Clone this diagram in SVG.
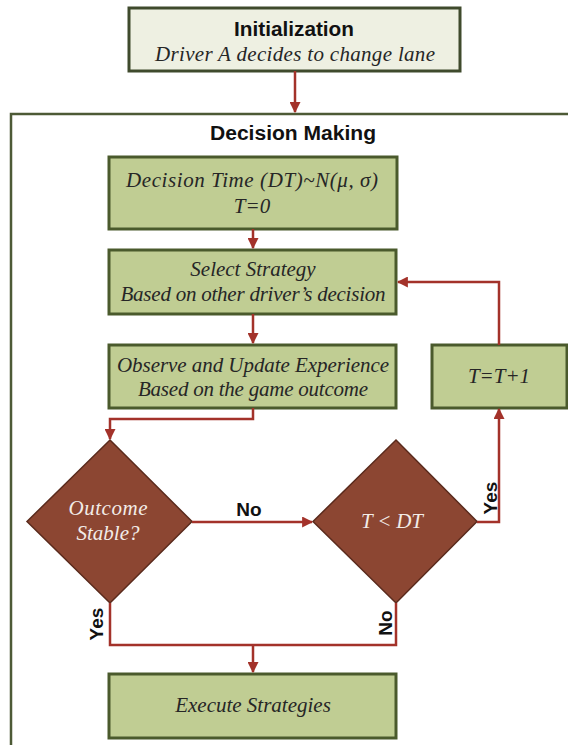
<svg xmlns="http://www.w3.org/2000/svg" width="568" height="745" viewBox="0 0 568 745">
<defs>
<marker id="ah" viewBox="0 0 10 10" refX="9" refY="5" markerWidth="11" markerHeight="11" markerUnits="userSpaceOnUse" orient="auto">
<path d="M0,0 L10,5 L0,10 z" fill="#a3322a"/>
</marker>
<style>
.box{fill:#c0cd93;stroke:#4a5a2c;stroke-width:3}
.init{fill:#eef0e2;stroke:#3f4a2c;stroke-width:3}
.dia{fill:#8c4632;stroke:#5a2a1c;stroke-width:1.5}
.it{font-family:"Liberation Serif",serif;font-style:italic;font-size:21px;fill:#262626;text-anchor:middle}
.wt{font-family:"Liberation Serif",serif;font-style:italic;font-size:21px;fill:#f2ece8;text-anchor:middle}
.hd{font-family:"Liberation Sans",Arial,sans-serif;font-weight:bold;font-size:20px;fill:#111;text-anchor:middle}
.lb{font-family:"Liberation Sans",Arial,sans-serif;font-weight:bold;font-size:19px;fill:#111;text-anchor:middle}
.ln{fill:none;stroke:#a3322a;stroke-width:2.5}
</style>
</defs>
<rect x="0" y="0" width="568" height="745" fill="#ffffff"/>
<g id="container">
<path d="M11,745 L11,114 L568,114" fill="none" stroke="#4d5a36" stroke-width="2.5"/>
<text class="hd" x="293" y="140" textLength="166" lengthAdjust="spacingAndGlyphs">Decision Making</text>
</g>
<g id="init">
<rect class="init" x="129" y="8" width="331" height="63"/>
<text class="hd" x="294" y="36" textLength="120" lengthAdjust="spacingAndGlyphs">Initialization</text>
<text class="it" x="295" y="61" textLength="280">Driver A decides to change  lane</text>
</g>
<g id="dt">
<rect class="box" x="109" y="157" width="288" height="72"/>
<text class="it" x="252" y="187" textLength="252">Decision Time (DT)~N(μ, σ)</text>
<text class="it" x="252" y="213">T=0</text>
</g>
<g id="select">
<rect class="box" x="109" y="250" width="287" height="64"/>
<text class="it" x="253" y="276">Select Strategy</text>
<text class="it" x="253" y="301" textLength="265">Based on  other driver’s decision</text>
</g>
<g id="observe">
<rect class="box" x="109" y="345" width="287" height="63"/>
<text class="it" x="253" y="372" textLength="272">Observe and Update Experience</text>
<text class="it" x="253" y="396" textLength="230">Based on  the game outcome</text>
</g>
<g id="tinc">
<rect class="box" x="432" y="345" width="135" height="63"/>
<text class="it" x="499" y="383">T=T+1</text>
</g>
<g id="stable">
<polygon class="dia" points="110,440 192,521.5 110,603 27,521.5"/>
<text class="wt" x="108" y="515" textLength="79">Outcome</text>
<text class="wt" x="108" y="540" textLength="63">Stable?</text>
</g>
<g id="tlessdt">
<polygon class="dia" points="396,440 477,521.5 396,603 313,521.5"/>
<text class="wt" x="392" y="528" textLength="62">T &lt; DT</text>
</g>
<g id="execute">
<rect class="box" x="109" y="674" width="287" height="64"/>
<text class="it" x="253" y="712">Execute Strategies</text>
</g>
<g id="connectors">
<path class="ln" d="M295,71 L295,112" marker-end="url(#ah)"/>
<path class="ln" d="M253,229 L253,248" marker-end="url(#ah)"/>
<path class="ln" d="M253,314 L253,343" marker-end="url(#ah)"/>
<path class="ln" d="M253,408 L253,419 L110,419 L110,439" marker-end="url(#ah)"/>
<path class="ln" d="M192,522 L312,522" marker-end="url(#ah)"/>
<path class="ln" d="M477,522 L499,522 L499,409" marker-end="url(#ah)"/>
<path class="ln" d="M499,345 L499,282 L398,282" marker-end="url(#ah)"/>
<path class="ln" d="M110,603 L110,645 L396,645 L396,603"/>
<path class="ln" d="M253,645 L253,672" marker-end="url(#ah)"/>
<text class="lb" x="249" y="516">No</text>
<text class="lb" transform="translate(497,498) rotate(-90)">Yes</text>
<text class="lb" transform="translate(103,624) rotate(-90)">Yes</text>
<text class="lb" transform="translate(392,623) rotate(-90)">No</text>
</g>
</svg>
